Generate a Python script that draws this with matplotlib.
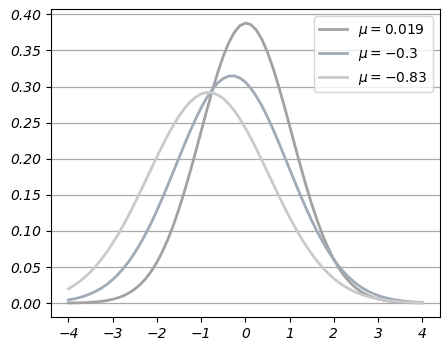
import matplotlib
matplotlib.use("Agg")
import matplotlib.pyplot as plt

x = [-4.0, -3.875, -3.75, -3.625, -3.5, -3.375, -3.25, -3.125, -3.0,
     -2.875, -2.75, -2.625, -2.5, -2.375, -2.25, -2.125, -2.0,
     -1.875, -1.75, -1.625, -1.5, -1.375, -1.25, -1.125, -1.0,
     -0.875, -0.75, -0.625, -0.5, -0.375, -0.25, -0.125, 0.0,
     0.125, 0.25, 0.375, 0.5, 0.625, 0.75, 0.875, 1.0,
     1.125, 1.25, 1.375, 1.5, 1.625, 1.75, 1.875, 2.0,
     2.125, 2.25, 2.375, 2.5, 2.625, 2.75, 2.875, 3.0,
     3.125, 3.25, 3.375, 3.5, 3.625, 3.75, 3.875, 4.0]

y_019 = [0.0002, 0.0003, 0.0005, 0.0007, 0.0011, 0.0017, 0.0025, 0.0036, 0.0052,
         0.0074, 0.0103, 0.0142, 0.0193, 0.0258, 0.0340, 0.0441, 0.0564,
         0.0711, 0.0883, 0.1080, 0.1303, 0.1547, 0.1811, 0.2089, 0.2374,
         0.2659, 0.2933, 0.3189, 0.3416, 0.3605, 0.3749, 0.3842, 0.3879,
         0.3859, 0.3783, 0.3654, 0.3478, 0.3261, 0.3013, 0.2744, 0.2461,
         0.2175, 0.1895, 0.1626, 0.1375, 0.1145, 0.0940, 0.0760, 0.0606,
         0.0476, 0.0368, 0.0281, 0.0211, 0.0156, 0.0114, 0.0082, 0.0058,
         0.0040, 0.0028, 0.0019, 0.0013, 0.0008, 0.0005, 0.0003, 0.0002]

y_03 = [0.0044, 0.0058, 0.0077, 0.0100, 0.0129, 0.0165, 0.0209, 0.0261, 0.0324,
        0.0398, 0.0485, 0.0583, 0.0696, 0.0822, 0.0962, 0.1114, 0.1279,
        0.1453, 0.1635, 0.1822, 0.2010, 0.2197, 0.2377, 0.2547, 0.2703,
        0.2841, 0.2957, 0.3048, 0.3111, 0.3144, 0.3148, 0.3120, 0.3063,
        0.2977, 0.2866, 0.2733, 0.2580, 0.2412, 0.2233, 0.2048, 0.1859,
        0.1672, 0.1489, 0.1313, 0.1146, 0.0991, 0.0849, 0.0720, 0.0605,
        0.0503, 0.0414, 0.0338, 0.0273, 0.0218, 0.0173, 0.0136, 0.0106,
        0.0081, 0.0062, 0.0047, 0.0035, 0.0026, 0.0019, 0.0014, 0.0010]

y_083 = [0.0198, 0.0243, 0.0297, 0.0360, 0.0432, 0.0515, 0.0608, 0.0712, 0.0827,
         0.0952, 0.1087, 0.1231, 0.1383, 0.1540, 0.1701, 0.1863, 0.2024,
         0.2179, 0.2328, 0.2465, 0.2589, 0.2697, 0.2785, 0.2853, 0.2897,
         0.2918, 0.2915, 0.2887, 0.2836, 0.2762, 0.2668, 0.2556, 0.2428,
         0.2287, 0.2136, 0.1979, 0.1818, 0.1656, 0.1496, 0.1340, 0.1190,
         0.1049, 0.0916, 0.0794, 0.0682, 0.0581, 0.0491, 0.0411, 0.0341,
         0.0281, 0.0230, 0.0186, 0.0150, 0.0119, 0.0094, 0.0074, 0.0057,
         0.0044, 0.0034, 0.0026, 0.0019, 0.0014, 0.0011, 0.0008, 0.0006]

labels = [r"$\mu = 0.019$", r"$\mu = -0.3$", r"$\mu = -0.83$"]

xticks = [-4, -3, -2, -1, 0, 1, 2, 3, 4]
yticks = [0.0, 0.05, 0.10, 0.15, 0.20, 0.25, 0.30, 0.35, 0.40]

fig, ax = plt.subplots(figsize=(4.48, 3.51), dpi=100)
ax.plot(x, y_019, color="#a2a2a2", lw=2, label=labels[0])
ax.plot(x, y_03, color="#a0abb7", lw=2, label=labels[1])
ax.plot(x, y_083, color="#cacaca", lw=2, label=labels[2])

ax.set_xticks(xticks, [str(t).replace("-", "\u2212") for t in xticks],
              fontstyle="italic")
ax.set_yticks(yticks, ["%.2f" % t for t in yticks], fontstyle="italic")

ax.grid(axis="y", color="#aaaaaa", lw=0.9)
ax.set_axisbelow(True)
ax.legend(loc="upper right")

plt.subplots_adjust(left=0.113, right=0.982, top=0.974, bottom=0.097)
plt.savefig("out.png", dpi=100)
